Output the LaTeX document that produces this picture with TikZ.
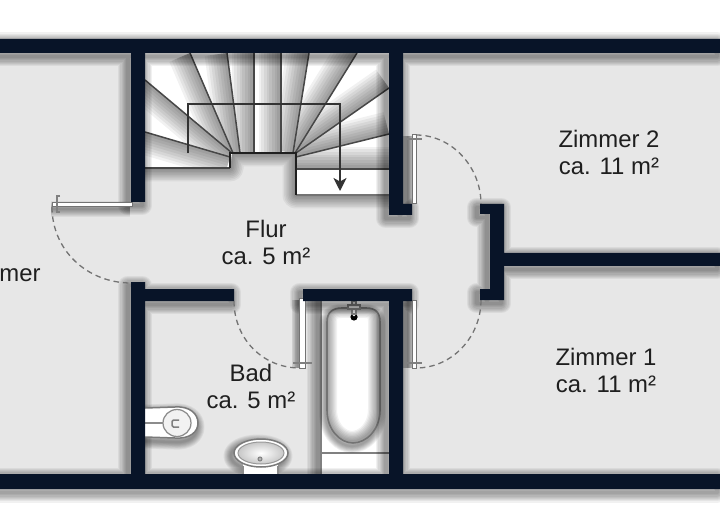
\documentclass[tikz,border=0pt]{standalone}
\usepackage{fontspec}
\setmainfont{Liberation Sans}
\usetikzlibrary{arrows.meta}
\definecolor{wallblue}{HTML}{081428}
\definecolor{floorgray}{HTML}{E7E7E7}
\tikzset{x=0.02cm,y=-0.02cm,
    wall/.style={fill=wallblue},
    softline/.style={draw=black,draw opacity=.055,line join=round},
    stairline/.style={draw=black!72,line width=.3mm},
    stairedge/.style={draw=black!88,line width=.55mm},
    walkline/.style={draw=black!80,line width=.32mm},
    leaf/.style={draw=black!55,fill=white,line width=.2mm},
    swing/.style={draw=black!55,line width=.26mm,dash pattern=on 1.1mm off .8mm},
    doortick/.style={draw=black!50,line width=.22mm},
    fixture/.style={draw=black!52,fill=white,line width=.3mm},
    roomlabel/.style={align=center,text=black!88,font=\fontsize{13.6}{15.4}\selectfont}}
\newcommand{\wallrects}{(0,39) rectangle (720,53) (0,474) rectangle (720,489)
    (131,53) rectangle (145,202) (131,282) rectangle (145,474)
    (145,289) rectangle (234,301) (303,289) rectangle (412,301)
    (389,53) rectangle (403,215) (389,204) rectangle (412,215)
    (389,301) rectangle (403,474)
    (490,204) rectangle (504,300) (480,204) rectangle (490,214) (480,289) rectangle (490,300)
    (504,253) rectangle (720,266)}
\newcommand{\softstroke}[2]{\foreach \w in {1,.88,.76,.64,.52,.4,.28,.16}{\draw[softline,line width=\w*#1] #2;}}
\newcommand{\tubpath}{(327,322) .. controls (327,312) and (333,308) .. (342,308) -- (366,308)
    .. controls (375,308) and (380,312) .. (380,322) -- (380,410)
    .. controls (380,430) and (366,443) .. (353,443)
    .. controls (340,443) and (327,430) .. (327,410) -- cycle}
\newcommand{\toiletpath}{(145,408) -- (175,407) .. controls (190,406) and (198,414) .. (198,423)
    .. controls (198,432) and (190,439) .. (175,438) -- (145,437)}
\begin{document}
\begin{tikzpicture}
\useasboundingbox (0,0) rectangle (720,530);
\clip (0,0) rectangle (720,530);
\fill[floorgray] (0,53) rectangle (720,474);

% stairs
\foreach \i/\po/\pc/\ph in {0/{145,168}/{145,168}/{230,168},1/{145,132}/{145,132}/{230,157},
    2/{145,80}/{145,80}/{232,153},3/{190,53}/{145,53}/{233,153},4/{227,53}/{227,53}/{240,153},
    5/{254,53}/{254,53}/{254,153},6/{281,53}/{281,53}/{281,153},7/{309,53}/{309,53}/{293,153},
    8/{357,53}/{357,53}/{295,153},9/{389,88}/{389,53}/{296,153},10/{389,134}/{389,134}/{296,157},
    11/{389,169}/{389,169}/{296,169},12/{389,195}/{389,195}/{296,195}}{
    \coordinate (o\i) at (\po);
    \coordinate (c\i) at (\pc);
    \coordinate (h\i) at (\ph);
}
\begin{scope}[shift={(-1,3)}]
\softstroke{5.4mm}{(c3) -- (c9) -- (o12) -- (h12) -- (h9) -- (h2) -- (h0) -- (o0) -- cycle}
\end{scope}
\fill[white] (c3) -- (c9) -- (o12) -- (h12) -- (h9) -- (h2) -- (h0) -- (o0) -- cycle;
\foreach \i/\j in {0/1,1/2,2/3,3/4,4/5,5/6,6/7,7/8,8/9,9/10,10/11}{
    \begin{scope}
    \clip (o\i) -- (c\j) -- (o\j) -- (h\j) -- (h\i) -- cycle;
    \softstroke{9mm}{(o\j) -- (h\j)}
    \end{scope}
}
\foreach \i in {0,...,11}{\draw[stairline] (o\i) -- (h\i);}
\draw[stairline,draw=black!55] (o12) -- (h12);
\draw[stairedge] (h0) -- (230,153) -- (296,153) -- (h12);
\coordinate (walkstart) at (188,153);
\coordinate (walkleft) at (188,104);
\coordinate (walkright) at (340,104);
\coordinate (walkend) at (340,191);
\draw[walkline,-{Stealth[length=2.6mm,width=2.6mm,inset=.7mm]}] (walkstart) -- (walkleft) -- (walkright) -- (walkend);

% bathtub
\begin{scope}[shift={(-3,0)}]
\softstroke{4.4mm}{(321,301) -- (321,474)}
\end{scope}
\fill[white] (321,301) rectangle (389,474);
\draw[draw=black!50,line width=.5mm] (321,301) -- (321,474);
\draw[draw=black!50,line width=.3mm] (321,453) -- (389,453);
\begin{scope}[shift={(-1,3)}]
\softstroke{2.8mm}{\tubpath}
\end{scope}
\fill[white] \tubpath;
\begin{scope}
\clip \tubpath;
\begin{scope}[shift={(-1,-1)}]
\softstroke{4.4mm}{\tubpath}
\end{scope}
\end{scope}
\draw[draw=black!55,line width=.32mm] \tubpath;
\fill[black] (354,317) circle (3.6);
\fill[white] (354,315) circle (1.3);
\draw[doortick,fill=black!12] (352,301) rectangle (356,314);
\draw[doortick,fill=black!12] (348,305) rectangle (360,309);

% wall shadow, door leaves
\begin{scope}[shift={(-3,3.5)}]
\foreach \w in {1,.88,.76,.64,.52,.4,.28,.16}{\path[softline,line width=\w*4mm] \wallrects;}
\end{scope}
\begin{scope}[shift={(-1,4)}]
\softstroke{3.2mm}{(52,205) -- (131,205)}
\end{scope}
\softstroke{3.4mm}{(408,136) -- (408,204)}
\softstroke{3.4mm}{(408,300) -- (408,368)}
\softstroke{2.6mm}{(298,300) -- (298,368)}
\draw[leaf] (52,203) rectangle (132,207);
\draw[leaf] (299,298) rectangle (305,368);
\draw[leaf] (412,135) rectangle (416,204);
\draw[leaf] (412,300) rectangle (416,368);
\draw[doortick] (60,196) -- (57,196) -- (57,212) -- (60,212);
\draw[doortick] (293,363) -- (312,363);
\draw[doortick] (405,139) -- (422,139);
\draw[doortick] (405,363) -- (422,363);

% toilet and basin
\begin{scope}[shift={(-1,4)}]
\softstroke{3mm}{\toiletpath}
\end{scope}
\draw[fixture] \toiletpath;
\draw[draw=black!45,fill=black!5,line width=.25mm] (177,423) ellipse [x radius=2.8mm,y radius=2.7mm];
\draw[draw=black!45,line width=.25mm] (145,423) -- (163,423);
\draw[draw=black!50,line width=.3mm,rounded corners=.3mm] (179,420) -- (172,420) -- (172,427) -- (179,427);
\begin{scope}[shift={(-3,3)}]
\softstroke{3mm}{(261,453) ellipse [x radius=5.4mm,y radius=2.8mm]}
\end{scope}
\fill[white] (243,458) rectangle (278,474);
\draw[draw=black!45,line width=.25mm] (243,466) -- (243,474) (278,466) -- (278,474);
\draw[fixture] (261,453) ellipse [x radius=5.4mm,y radius=2.8mm];
\draw[draw=black!40,inner color=white,outer color=black!22,line width=.2mm] (261,453) ellipse [x radius=4.6mm,y radius=2.2mm];
\draw[draw=black!50,fill=black!30,line width=.2mm] (260,459) circle (2);

% door swings
\coordinate (swingAa) at (52,207);
\coordinate (swingAb) at (131,283);
\coordinate (swingBa) at (234,301);
\coordinate (swingBb) at (300,368);
\coordinate (swingCa) at (481,300);
\coordinate (swingCb) at (416,368);
\coordinate (swingDa) at (416,135);
\coordinate (swingDb) at (481,204);
\draw[swing] (swingAa) .. controls (52,250) and (87,283) .. (swingAb);
\draw[swing] (swingBa) .. controls (234,338) and (262,368) .. (swingBb);
\draw[swing] (swingCa) .. controls (481,337) and (452,368) .. (swingCb);
\draw[swing] (swingDa) .. controls (452,135) and (481,167) .. (swingDb);

% walls
\fill[wall] \wallrects;

\node[roomlabel] (zimmerzwei) at (609,152) {Zimmer 2\\ca. 11 m²};
\node[roomlabel] (zimmereins) at (606,370) {Zimmer 1\\ca. 11 m²};
\node[roomlabel] (flur) at (266,242) {Flur\\ca. 5 m²};
\node[roomlabel] (bad) at (251,386) {Bad\\ca. 5 m²};
\node[roomlabel,anchor=east,inner xsep=0pt] (zimmerrest) at (41,275) {mer};
\end{tikzpicture}
\end{document}
